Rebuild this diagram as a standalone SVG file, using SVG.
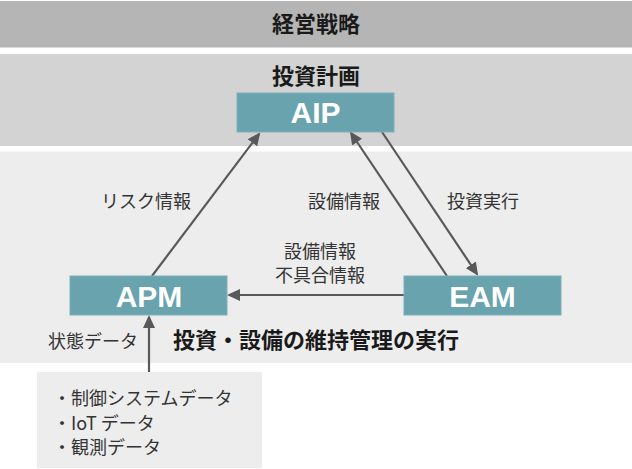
<svg xmlns="http://www.w3.org/2000/svg" width="632" height="469" viewBox="0 0 632 469">
<style>
.band1{fill:#b4b5b4}
.band2{fill:#d3d3d3}
.band3{fill:#ededed}
.box{fill:#68a3ae;stroke:#7fb0b9;stroke-width:1}
.boxt{font-family:"Liberation Sans",Arial,sans-serif;font-weight:bold;font-size:30px;fill:#ffffff;text-anchor:middle}
.title{font-family:"Noto Sans CJK JP",sans-serif;font-weight:bold;font-size:22px;fill:#1a1a1a;text-anchor:middle}
.lbl{font-family:"Noto Sans CJK JP",sans-serif;font-size:18px;fill:#333333;text-anchor:middle}
.lst{font-family:"Noto Sans CJK JP",sans-serif;font-size:18px;fill:#333333}
.conn{stroke:#595959;stroke-width:2.2;fill:none;marker-end:url(#ah)}
</style>
<defs>
<marker id="ah" markerUnits="userSpaceOnUse" markerWidth="13" markerHeight="12" refX="11" refY="6" orient="auto">
<path d="M0,0 L13,6 L0,12 z" fill="#595959"/>
</marker>
</defs>
<g id="band-strategy">
<rect class="band1" x="0" y="1" width="632" height="46.5"/>
<text class="title" x="316" y="32" font-size="23">経営戦略</text>
</g>
<g id="band-plan">
<rect class="band2" x="0" y="54" width="632" height="92"/>
<text class="title" x="316" y="84" font-size="23">投資計画</text>
</g>
<g id="band-exec">
<rect class="band3" x="0" y="151.5" width="632" height="211.5"/>
<text class="title" x="316" y="348">投資・設備の維持管理の実行</text>
</g>
<g id="connectors">
<path class="conn" d="M152,276 L259,134"/>
<path class="conn" d="M447,276 L351,133"/>
<path class="conn" d="M382,132 L477,274"/>
<path class="conn" d="M404,295 L229,295"/>
<path class="conn" d="M149,372 L149,317"/>
</g>
<g id="AIP">
<rect class="box" x="237" y="93" width="157" height="39"/>
<text class="boxt" x="315.5" y="123">AIP</text>
</g>
<g id="APM">
<rect class="box" x="70" y="276" width="157" height="39"/>
<text class="boxt" x="149" y="306.5">APM</text>
</g>
<g id="EAM">
<rect class="box" x="404" y="276" width="157" height="39"/>
<text class="boxt" x="482.5" y="306.5">EAM</text>
</g>
<g id="labels">
<text class="lbl" x="146" y="208">リスク情報</text>
<text class="lbl" x="344" y="208">設備情報</text>
<text class="lbl" x="483" y="208">投資実行</text>
<text class="lbl" x="320" y="258">設備情報</text>
<text class="lbl" x="320" y="282">不具合情報</text>
<text class="lbl" x="93" y="348">状態データ</text>
</g>
<g id="sources">
<rect class="band3" x="37" y="372" width="225" height="96"/>
<text class="lst" x="53" y="405">・制御システムデータ</text>
<text class="lst" x="53" y="430">・IoT データ</text>
<text class="lst" x="53" y="454">・観測データ</text>
</g>
</svg>
